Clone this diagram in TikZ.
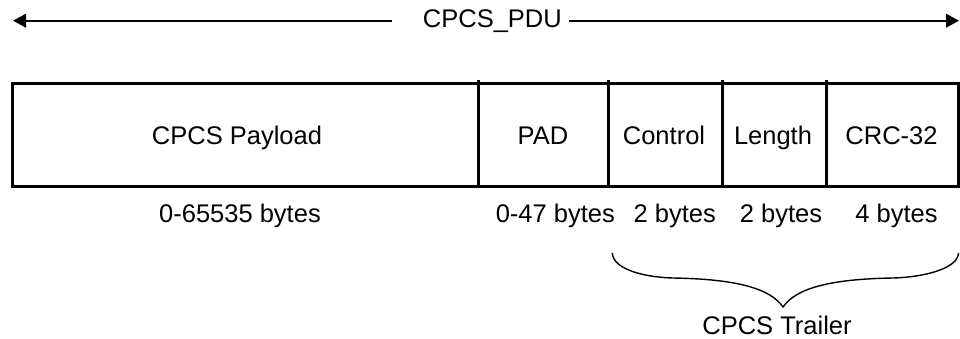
\documentclass[tikz,border=0pt]{standalone}
\usepackage{fontspec}
\setmainfont{Liberation Sans}
\usetikzlibrary{arrows.meta}
\begin{document}
\begin{tikzpicture}[x=1pt,y=-1pt,
  lbl/.style={font=\fontsize{25.5}{30}\selectfont, inner sep=0pt, anchor=base},
  boxline/.style={line width=3pt},
  pduline/.style={line width=2.2pt, -{Triangle[length=13pt,width=13.5pt]}},
  braceline/.style={line width=1.4pt}]
\useasboundingbox (0,0) rectangle (960,338);
% PDU arrow
\node[lbl] (pdu) at (492.4,27.3) {CPCS\_PDU};
\coordinate (pl) at (391.7,20.7);
\coordinate (pr) at (569.3,20.7);
\coordinate (al) at (13,20.7);
\coordinate (ar) at (959,20.7);
\draw[pduline] (pl) -- (al);
\draw[pduline] (pr) -- (ar);
% box
\coordinate (tl) at (12.3,83.3);
\coordinate (br) at (958.5,186.8);
\draw[boxline] (tl) rectangle (br);
\foreach \x/\n in {478.3/d1, 608/d2, 722.5/d3, 826/d4}{
  \coordinate (\n t) at (\x,80);
  \coordinate (\n b) at (\x,186.8);
  \draw[boxline] (\n t) -- (\n b);
}
% cell labels
\node[lbl] (payload) at (237,144) {CPCS Payload};
\node[lbl] (pad) at (543,144) {PAD};
\node[lbl] (control) at (664,144) {Control};
\node[lbl] (length) at (773,144) {Length};
\node[lbl] (crc) at (891.5,144) {CRC-32};
% size labels
\node[lbl] (s1) at (240,222.7) {0-65535 bytes};
\node[lbl] (s2) at (555.3,222.7) {0-47 bytes};
\node[lbl] (s3) at (674.7,222.7) {2 bytes};
\node[lbl] (s4) at (781,222.7) {2 bytes};
\node[lbl] (s5) at (896.5,222.7) {4 bytes};
% brace
\coordinate (bl) at (612.3,253);
\coordinate (bm1) at (673,278);
\coordinate (tip) at (783,307);
\coordinate (bm2) at (893,278);
\coordinate (brr) at (958.5,253);
\draw[braceline] (bl) .. controls (613,268) and (640,277) .. (bm1)
  .. controls (735,279) and (770,288) .. (tip)
  .. controls (796,288) and (831,279) .. (bm2)
  .. controls (926,277) and (958,268) .. (brr);
\node[lbl] (trailer) at (777,334) {CPCS Trailer};
\end{tikzpicture}
\end{document}
